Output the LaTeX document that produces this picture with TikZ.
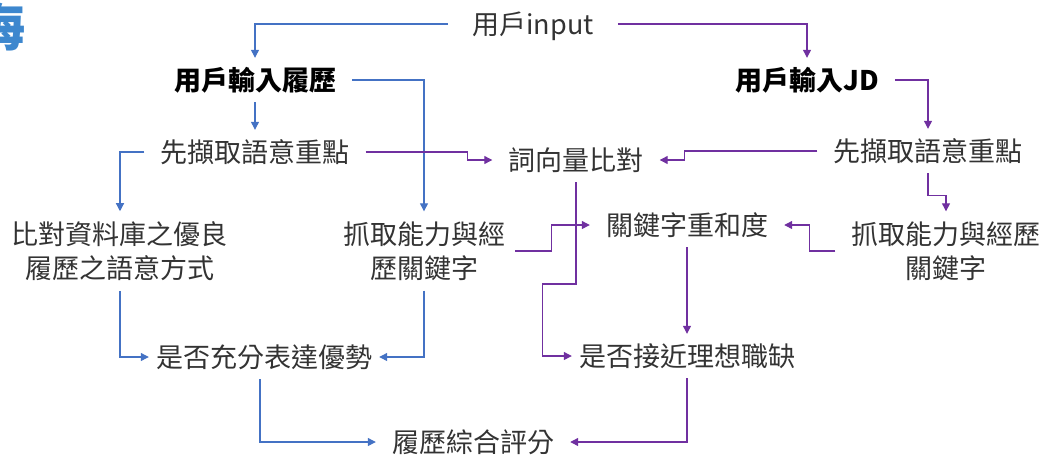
\documentclass[tikz,border=0pt]{standalone}
\usepackage{fontspec}
\setmainfont{Noto Sans CJK TC}
\usepackage{tikz}
\usetikzlibrary{arrows.meta,positioning,calc}
\definecolor{resblue}{HTML}{4472C4}
\definecolor{jdpurple}{HTML}{7030A0}
\definecolor{titleblue}{HTML}{3D87CE}
\definecolor{txtgray}{HTML}{333333}
\tikzset{
txt/.style   = {inner xsep=16pt, inner ysep=10pt, text=txtgray, font=\fontsize{27}{34}\selectfont, text height=22pt, text depth=2pt},
txtb/.style  = {txt, text=black, font=\fontsize{27}{34}\selectfont\bfseries},
txtii/.style = {inner xsep=16pt, inner ysep=10pt, text=txtgray, font=\fontsize{27}{34}\selectfont, align=center},
bline/.style = {draw=resblue, line width=1.2pt},
pline/.style = {draw=jdpurple, line width=1.2pt}
}

\begin{document}
\begin{tikzpicture}[x=1pt, y=-1pt, >={Triangle[length=8pt,width=8pt]}]
  \useasboundingbox (0,0) rectangle (1057,456);
  \node [font=\fontsize{52}{52}\selectfont\bfseries, text=titleblue, inner sep=0pt, anchor=north east] (title) at (26,2) {海};

  \node [txt, inner xsep=24pt]        (input)  at (533,24)  {用戶input};
  \node [txtb]                        (resume) at (255,80)  {用戶輸入履歷};
  \node [txtb]                        (jd)     at (807,80)  {用戶輸入JD};
  \node [txt]                         (keyl)   at (255,152) {先擷取語意重點};
  \node [txt]                         (keyr)   at (928,151) {先擷取語意重點};
  \node [txt]                         (vec)    at (576,160) {詞向量比對};
  \node [txtii]                       (cmp)    at (120,251) {比對資料庫之優良\\履歷之語意方式};
  \node [txtii, inner xsep=10pt]      (grabl)  at (424,251) {抓取能力與經\\歷關鍵字};
  \node [txtii]                       (grabr)  at (946,251) {抓取能力與經歷\\關鍵字};
  \node [txt]                         (kwd)    at (687,225) {關鍵字重和度};
  \node [txt, inner xsep=7pt]         (showl)  at (264,357) {是否充分表達優勢};
  \node [txt, inner xsep=7pt]         (near)   at (687,356) {是否接近理想職缺};
  \node [txt]                         (score)  at (473,442) {履歷綜合評分};

  % resume side
  \draw [bline,->] (input.west) -| (resume.north);
  \draw [bline,->] (resume.south) -- (keyl.north);
  \draw [bline,->] (resume.east) -| (grabl.north);
  \draw [bline,->] (keyl.west) -| (cmp.north);
  \draw [bline,->] (cmp.south) |- (showl.west);
  \draw [bline,->] (grabl.south) |- (showl.east);
  \draw [bline,->] ([xshift=-4pt]showl.south) |- (score.west);

  % JD side
  \draw [pline,->] (input.east) -| (jd.north);
  \draw [pline,->] (jd.east) -| (keyr.north);
  \draw [pline,->] (keyl.east) -| ([xshift=-25pt]vec.west) -- (vec.west);
  \draw [pline,->] (keyr.west) -| ([xshift=25pt]vec.east) -- (vec.east);
  \draw [pline,->] (keyr.south) -- ++(0,22) -| (grabr.north);
  \draw [pline,->] (grabr.west) -- ++(-26,0) |- (kwd.east);
  \draw [pline,->] (grabl.east) -- ++(36,0) |- (kwd.west);
  \draw [pline,->] (vec.south) |- ([xshift=-29pt,yshift=72pt]near.west) |- (near.west);
  \draw [pline,->] (kwd.south) -- (near.north);
  \draw [pline,->] (near.south) |- (score.east);
\end{tikzpicture}
\end{document}
